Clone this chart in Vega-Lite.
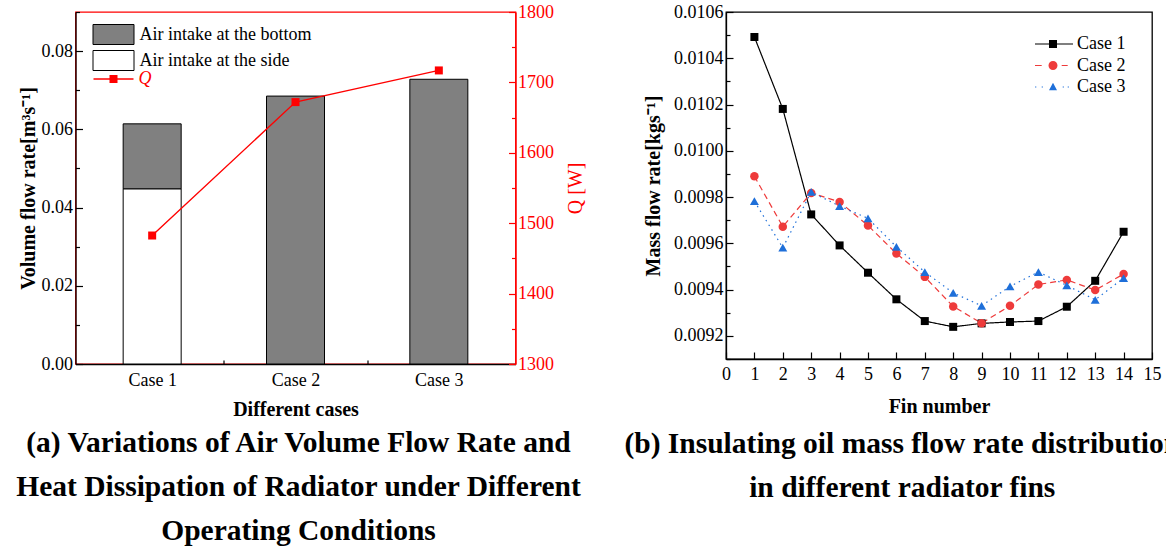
{
  "$schema": "https://vega.github.io/schema/vega-lite/v6.json",
  "padding": {"left": 14.5, "top": 2, "right": 0, "bottom": 0},
  "bounds": "flush",
  "spacing": 210.5,
  "resolve": {"scale": {"color": "independent", "x": "independent", "y": "independent"}, "legend": {"color": "independent"}},
  "config": {
    "font": "Liberation Serif",
    "view": {"stroke": null},
    "axis": {
      "labelFont": "Liberation Serif", "labelFontSize": 18, "labelColor": "#000",
      "titleFont": "Liberation Serif", "titleFontSize": 20, "titleFontWeight": "bold", "titleColor": "#000",
      "domainColor": "#000", "domainWidth": 1.3, "tickColor": "#000", "tickWidth": 1.2,
      "grid": false, "labelOverlap": false, "labelFlush": false
    },
    "legend": {"labelFont": "Liberation Serif", "labelFontSize": 18, "labelColor": "#000", "padding": 0, "labelLimit": 400}
  },
  "hconcat": [
    {
      "width": 440,
      "height": 352,
      "view": {"stroke": "#ff0000", "strokeWidth": 1.3},
      "title": {
        "text": ["(a) Variations of Air Volume Flow Rate and", "Heat Dissipation of Radiator under Different", "Operating Conditions"],
        "orient": "bottom", "anchor": "middle", "frame": "group", "dx": 3,
        "font": "Liberation Serif", "fontSize": 29.5, "fontWeight": "bold", "color": "#000",
        "lineHeight": 44, "offset": 10
      },
      "layer": [
        {
          "data": {"values": [
            {"case": 1, "part": "Air intake at the side", "value": 0.0448},
            {"case": 1, "part": "Air intake at the bottom", "value": 0.0166},
            {"case": 2, "part": "Air intake at the bottom", "value": 0.0685},
            {"case": 3, "part": "Air intake at the bottom", "value": 0.0728}
          ]},
          "mark": {"type": "bar", "size": 58, "stroke": "#000", "strokeWidth": 1},
          "encoding": {
            "x": {
              "field": "case", "type": "quantitative",
              "scale": {"domain": [0.5, 3.5], "nice": false, "zero": false},
              "axis": {
                "values": [1, 1.5, 2, 2.5, 3],
                "labelExpr": "datum.value % 1 == 0 ? 'Case ' + datum.value : ''",
                "tickSize": {"condition": {"test": "datum.value % 1 == 0", "value": -7}, "value": -4},
                "labelPadding": 14,
                "title": "Different cases", "titlePadding": 7
              }
            },
            "y": {
              "field": "value", "type": "quantitative", "stack": "zero",
              "scale": {"domain": [0, 0.09], "nice": false},
              "axis": {
                "values": [0, 0.01, 0.02, 0.03, 0.04, 0.05, 0.06, 0.07, 0.08, 0.09],
                "labelExpr": "round(datum.value * 100) % 2 == 0 ? format(datum.value, '.2f') : ''",
                "tickSize": {"condition": {"test": "round(datum.value * 100) % 2 == 0", "value": -7}, "value": -4},
                "labelPadding": 10,
                "title": "Volume flow rate[m³s⁻¹]", "titlePadding": 3
              }
            },
            "order": {"field": "part", "sort": "descending"},
            "fill": {
              "field": "part", "type": "nominal",
              "scale": {"domain": ["Air intake at the bottom", "Air intake at the side"], "range": ["#808080", "#ffffff"]},
              "legend": {
                "title": null, "orient": "none", "legendX": 17, "legendY": 12,
                "symbolType": "M-1,-1H3.1V1H-1Z", "symbolSize": 400,
                "symbolStrokeColor": "#000", "symbolStrokeWidth": 1,
                "labelOffset": 26, "rowPadding": 1, "padding": 0
              }
            }
          }
        },
        {
          "data": {"values": [
            {"case": 1, "Q": 1482.5},
            {"case": 2, "Q": 1672},
            {"case": 3, "Q": 1717}
          ]},
          "mark": {"type": "line", "strokeWidth": 1.4, "point": {"shape": "square", "size": 64, "filled": true}},
          "encoding": {
            "x": {"field": "case", "type": "quantitative"},
            "y": {
              "field": "Q", "type": "quantitative",
              "scale": {"domain": [1300, 1800], "nice": false, "zero": false},
              "axis": {
                "orient": "right",
                "values": [1300, 1350, 1400, 1450, 1500, 1550, 1600, 1650, 1700, 1750, 1800],
                "labelExpr": "datum.value % 100 == 0 ? format(datum.value, 'd') : ''",
                "tickSize": {"condition": {"test": "datum.value % 100 == 0", "value": -7}, "value": -4},
                "labelPadding": 9,
                "labelColor": "#ff0000", "tickColor": "#ff0000", "domainColor": "#ff0000",
                "title": "Q [W]", "titleColor": "#ff0000", "titleFontWeight": "normal",
                "titleAngle": 270, "titlePadding": 32
              }
            },
            "color": {
              "datum": "Q",
              "scale": {"domain": ["Q"], "range": ["#ff0000"]},
              "legend": {
                "title": null, "orient": "none", "legendX": 17, "legendY": 57,
                "symbolType": "M-0.9,-0.07H3.1V0.07H-0.9Z M0.7,-0.4H1.5V0.4H0.7Z",
                "symbolSize": 400, "symbolStrokeWidth": 0, "symbolFillColor": "#ff0000",
                "labelOffset": 26, "labelColor": "#ff0000", "labelFontStyle": "italic", "padding": 0,
                "encode": {"symbols": {"update": {"fill": {"value": "#ff0000"}, "strokeWidth": {"value": 0}, "shape": {"value": "M-0.9,-0.07H3.1V0.07H-0.9Z M0.7,-0.4H1.5V0.4H0.7Z"}}}}
              }
            }
          }
        }
      ],
      "resolve": {"scale": {"y": "independent"}}
    },
    {
      "width": 426,
      "height": 347,
      "view": {"stroke": "#000", "strokeWidth": 1.3},
      "title": {
        "text": ["(b) Insulating oil mass flow rate distribution", "in different radiator fins"],
        "orient": "bottom", "anchor": "middle", "frame": "bounds",
        "font": "Liberation Serif", "fontSize": 29.5, "fontWeight": "bold", "color": "#000",
        "lineHeight": 44, "offset": 14
      },
      "data": {"values": [
        {"fin": 1, "case": "Case 1", "value": 0.010492},
        {"fin": 2, "case": "Case 1", "value": 0.010181},
        {"fin": 3, "case": "Case 1", "value": 0.009725},
        {"fin": 4, "case": "Case 1", "value": 0.009591},
        {"fin": 5, "case": "Case 1", "value": 0.009473},
        {"fin": 6, "case": "Case 1", "value": 0.009358},
        {"fin": 7, "case": "Case 1", "value": 0.009264},
        {"fin": 8, "case": "Case 1", "value": 0.009239},
        {"fin": 9, "case": "Case 1", "value": 0.009254},
        {"fin": 10, "case": "Case 1", "value": 0.00926},
        {"fin": 11, "case": "Case 1", "value": 0.009264},
        {"fin": 12, "case": "Case 1", "value": 0.009326},
        {"fin": 13, "case": "Case 1", "value": 0.009438},
        {"fin": 14, "case": "Case 1", "value": 0.00965},
        {"fin": 1, "case": "Case 2", "value": 0.00989},
        {"fin": 2, "case": "Case 2", "value": 0.009672},
        {"fin": 3, "case": "Case 2", "value": 0.009818},
        {"fin": 4, "case": "Case 2", "value": 0.009779},
        {"fin": 5, "case": "Case 2", "value": 0.009677},
        {"fin": 6, "case": "Case 2", "value": 0.009556},
        {"fin": 7, "case": "Case 2", "value": 0.009455},
        {"fin": 8, "case": "Case 2", "value": 0.009327},
        {"fin": 9, "case": "Case 2", "value": 0.009255},
        {"fin": 10, "case": "Case 2", "value": 0.00933},
        {"fin": 11, "case": "Case 2", "value": 0.009422},
        {"fin": 12, "case": "Case 2", "value": 0.009442},
        {"fin": 13, "case": "Case 2", "value": 0.009398},
        {"fin": 14, "case": "Case 2", "value": 0.009467},
        {"fin": 1, "case": "Case 3", "value": 0.009782},
        {"fin": 2, "case": "Case 3", "value": 0.009581},
        {"fin": 3, "case": "Case 3", "value": 0.009822},
        {"fin": 4, "case": "Case 3", "value": 0.009761},
        {"fin": 5, "case": "Case 3", "value": 0.009708},
        {"fin": 6, "case": "Case 3", "value": 0.009585},
        {"fin": 7, "case": "Case 3", "value": 0.009476},
        {"fin": 8, "case": "Case 3", "value": 0.009386},
        {"fin": 9, "case": "Case 3", "value": 0.00933},
        {"fin": 10, "case": "Case 3", "value": 0.009414},
        {"fin": 11, "case": "Case 3", "value": 0.009476},
        {"fin": 12, "case": "Case 3", "value": 0.009418},
        {"fin": 13, "case": "Case 3", "value": 0.009356},
        {"fin": 14, "case": "Case 3", "value": 0.00945}
      ]},
      "encoding": {
        "x": {
          "field": "fin", "type": "quantitative",
          "scale": {"domain": [0, 15], "nice": false, "zero": false},
          "axis": {
            "values": [0, 1, 2, 3, 4, 5, 6, 7, 8, 9, 10, 11, 12, 13, 14, 15],
            "tickSize": -7, "labelPadding": 13,
            "title": "Fin number", "titlePadding": 13
          }
        },
        "y": {
          "field": "value", "type": "quantitative",
          "scale": {"domain": [0.0091, 0.0106], "nice": false, "zero": false},
          "axis": {
            "values": [0.0091, 0.0092, 0.0093, 0.0094, 0.0095, 0.0096, 0.0097, 0.0098, 0.0099, 0.01, 0.0101, 0.0102, 0.0103, 0.0104, 0.0105, 0.0106],
            "labelExpr": "round(datum.value * 10000) % 2 == 0 ? format(datum.value, '.4f') : ''",
            "tickSize": {"condition": {"test": "round(datum.value * 10000) % 2 == 0", "value": -7}, "value": -4},
            "labelPadding": 10,
            "title": "Mass flow rate[kgs⁻¹]", "titlePadding": 10
          }
        },
        "color": {
          "field": "case", "type": "nominal",
          "scale": {"domain": ["Case 1", "Case 2", "Case 3"], "range": ["#000000", "#ee3b3b", "#1e6fd9"]},
          "legend": {
            "title": null, "orient": "none", "legendX": 309, "legendY": 22,
            "symbolSize": 400, "symbolStrokeWidth": 0,
            "labelOffset": 22, "rowPadding": 2.5, "padding": 0,
            "encode": {"symbols": {"update": {
              "strokeWidth": {"value": 0},
              "opacity": {"value": 1},
              "fill": {"signal": "datum.value === 'Case 1' ? '#000000' : datum.value === 'Case 2' ? '#ee3b3b' : '#1e6fd9'"},
              "shape": {"signal": "datum.value === 'Case 1' ? 'M-1,-0.06H2.8V0.06H-1Z M0.4,-0.4H1.2V0.4H0.4Z' : datum.value === 'Case 2' ? 'M-1,-0.06H-0.33V0.06H-1Z M1.67,-0.06H2.27V0.06H1.67Z M0.35,0A0.45,0.45 0 1,0 1.25,0A0.45,0.45 0 1,0 0.35,0Z' : 'M-0.99,-0.06h0.12v0.12h-0.12Z M-0.33,-0.06h0.12v0.12h-0.12Z M1.77,-0.06h0.12v0.12h-0.12Z M2.27,-0.06h0.12v0.12h-0.12Z M0.8,-0.42L1.2,0.32L0.4,0.32Z'"}
            }}}
          }
        }
      },
      "layer": [
        {
          "mark": {"type": "line", "strokeWidth": 1.2},
          "encoding": {
            "strokeDash": {
              "field": "case", "type": "nominal",
              "scale": {"domain": ["Case 1", "Case 2", "Case 3"], "range": [[1, 0], [6, 4], [1.5, 4]]},
              "legend": null
            }
          }
        },
        {
          "mark": {"type": "point", "filled": true, "opacity": 1},
          "encoding": {
            "shape": {
              "field": "case", "type": "nominal",
              "scale": {"domain": ["Case 1", "Case 2", "Case 3"], "range": ["square", "circle", "triangle-up"]},
              "legend": null
            },
            "size": {
              "field": "case", "type": "nominal",
              "scale": {"domain": ["Case 1", "Case 2", "Case 3"], "range": [64, 80, 95]},
              "legend": null
            }
          }
        }
      ]
    }
  ]
}
